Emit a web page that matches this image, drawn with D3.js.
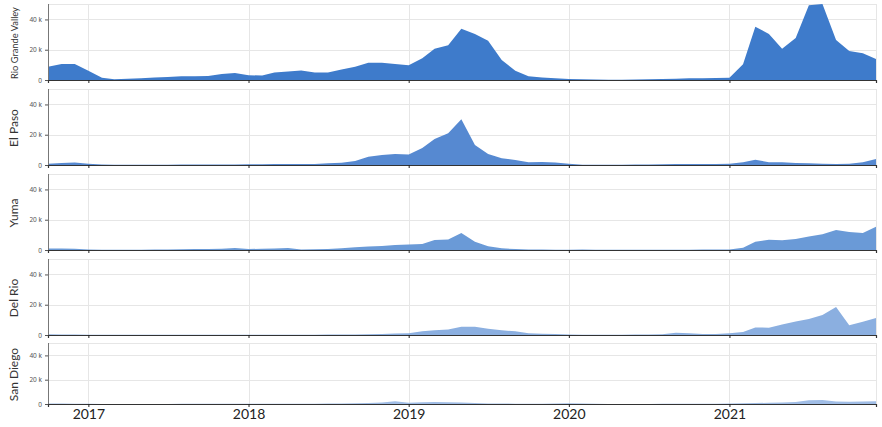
<!DOCTYPE html>
<html>
<head>
<meta charset="utf-8">
<script src="https://cdn.jsdelivr.net/npm/d3@7"></script>
<style>
  html, body { margin: 0; padding: 0; background: #fff; }
  svg { display: block; }
</style>
</head>
<body>
<svg id="chart" width="882" height="427"></svg>
<script>
// ---- DATA (monthly encounters, thousands) ----
const startMonth = "2016-10";
const endMonth = "2021-12";
const sectors = ["Rio Grande Valley", "El Paso", "Yuma", "Del Rio", "San Diego"];
const yearTicks = [2017, 2018, 2019, 2020, 2021];
const yTickValues = [0, 20000, 40000];

const rioGrandeValley = [8.8,10.5,10.6,6.1,1.5,0.5,0.8,1.2,1.6,2.0,2.5,2.4,2.7,4.0,4.7,3.1,3.0,5.0,5.6,6.3,5.0,5.0,7.0,8.8,11.4,11.4,10.5,9.7,14.3,20.7,22.9,33.9,30.4,25.9,13.2,6.1,2.4,1.6,1.1,0.6,0.5,0.4,0.1,0.2,0.3,0.5,0.7,0.9,1.1,1.1,1.3,1.5,10.4,35.2,30.4,20.7,27.7,49.3,50.2,26.4,19.1,17.6,13.9];
const elPaso = [0.9,1.4,1.6,0.9,0.3,0.1,0.1,0.1,0.2,0.2,0.3,0.4,0.3,0.4,0.4,0.5,0.5,0.6,0.7,0.6,0.7,1.2,1.5,2.7,5.5,6.6,7.3,6.9,11.2,17.2,21.0,30.2,13.2,7.3,4.4,3.3,1.8,1.9,1.7,0.9,0.2,0.2,0.1,0.2,0.3,0.4,0.5,0.6,0.6,0.7,0.7,0.8,1.8,3.5,1.8,1.8,1.3,1.1,0.8,0.7,0.8,1.8,4.0];
const yuma = [1.0,1.0,0.8,0.4,0.2,0.1,0.1,0.2,0.3,0.4,0.5,0.6,0.7,0.9,1.3,0.7,0.8,1.0,1.3,0.4,0.5,0.7,1.2,1.8,2.3,2.7,3.3,3.6,4.0,6.6,6.9,11.2,5.5,2.4,1.1,0.6,0.3,0.3,0.2,0.2,0.4,0.2,0.1,0.1,0.1,0.2,0.2,0.2,0.2,0.3,0.3,0.4,1.5,5.5,6.8,6.4,7.3,9.0,10.4,13.2,11.9,11.2,15.4];
const delRio = [0.5,0.4,0.3,0.2,0.1,0.1,0.1,0.1,0.1,0.2,0.2,0.2,0.2,0.2,0.2,0.2,0.2,0.2,0.2,0.2,0.2,0.3,0.3,0.4,0.5,0.7,1.0,1.1,2.5,3.1,3.6,5.5,5.5,4.2,3.1,2.4,1.1,0.9,0.6,0.3,0.2,0.2,0.1,0.2,0.3,0.3,0.5,1.5,1.2,0.7,0.6,1.1,2.0,5.0,4.8,7.0,9.0,10.6,13.2,18.5,6.4,8.8,11.2];
const sanDiego = [0.4,0.4,0.3,0.3,0.1,0.1,0.1,0.1,0.1,0.1,0.2,0.2,0.2,0.2,0.2,0.2,0.2,0.2,0.3,0.3,0.3,0.4,0.5,0.6,0.8,1.2,2.2,1.1,1.5,1.7,1.5,1.2,0.8,0.5,0.4,0.3,0.3,0.3,0.4,0.6,0.5,0.3,0.1,0.1,0.1,0.1,0.2,0.2,0.2,0.2,0.3,0.4,0.6,0.8,1.0,1.2,1.6,3.0,3.2,2.0,1.8,2.0,2.2];

const seriesValues = [rioGrandeValley, elPaso, yuma, delRio, sanDiego];
const colors = ["#3e7bcb", "#5689d1", "#6a9ad7", "#8bafe0", "#a0bde6"];

// ---- LAYOUT ----
const svg = d3.select("#chart");
const left = 48, right = 876;
const panelTops = [4, 89, 174, 259, 343];
const panelBottoms = [80, 165, 250, 335, 404];

const parseM = d3.timeParse("%Y-%m");
const months = d3.timeMonth.range(parseM(startMonth), d3.timeMonth.offset(parseM(endMonth), 1));

const x = d3.scaleTime().domain([months[0], months[months.length - 1]]).range([left, right]);
const yMax = d3.max(seriesValues, s => d3.max(s)) * 1000;

const fmt = v => v === 0 ? "0" : (v / 1000) + " k";

sectors.forEach((name, k) => {
  const top = panelTops[k], bottom = panelBottoms[k];
  const y = d3.scaleLinear().domain([0, yMax]).range([bottom, top]);
  const g = svg.append("g");

  // gridlines
  const grid = g.append("g").attr("stroke", "#e6e6e6").attr("stroke-width", 1);
  yTickValues.filter(v => v > 0).forEach(v => {
    grid.append("line").attr("x1", left).attr("x2", right)
      .attr("y1", Math.round(y(v)) + 0.5).attr("y2", Math.round(y(v)) + 0.5);
  });
  grid.append("line").attr("x1", left).attr("x2", right).attr("y1", top + 0.5).attr("y2", top + 0.5);
  grid.append("line").attr("x1", right + 0.5).attr("x2", right + 0.5).attr("y1", top).attr("y2", bottom);
  yearTicks.forEach(yr => {
    const xx = Math.round(x(new Date(yr, 0, 1))) + 0.5;
    grid.append("line").attr("x1", xx).attr("x2", xx).attr("y1", top).attr("y2", bottom);
  });

  // area
  const data = seriesValues[k].map((v, i) => ({ date: months[i], value: v * 1000 }));
  const area = d3.area().x(d => x(d.date)).y0(y(0)).y1(d => y(d.value));
  g.append("path").datum(data).attr("d", area).attr("fill", colors[k]);

  // x axis (baseline + ticks)
  const xAxis = d3.axisBottom(x)
    .tickValues(yearTicks.map(yr => new Date(yr, 0, 1)))
    .tickSize(3)
    .tickFormat(k === sectors.length - 1 ? d3.timeFormat("%Y") : "");
  const xg = g.append("g").attr("transform", `translate(0,${bottom})`).call(xAxis);
  xg.select(".domain").attr("stroke", "#333").attr("stroke-width", 1.2);
  xg.selectAll(".tick line").attr("stroke", "#222");
  xg.selectAll(".tick text")
    .attr("font-family", "Lato, 'Noto Sans', sans-serif")
    .attr("font-size", 14).attr("fill", "#222").attr("dy", 9);

  // y axis
  const yAxis = d3.axisLeft(y).tickValues(yTickValues).tickSize(3).tickFormat(fmt);
  const yg = g.append("g").attr("transform", `translate(${left},0)`).call(yAxis);
  yg.select(".domain").attr("stroke", "#777").attr("d", `M0.5,${top}V${bottom}`);
  yg.selectAll(".tick line").attr("stroke", "#555");
  yg.selectAll(".tick text")
    .attr("font-family", "'Noto Sans', sans-serif")
    .attr("font-size", 6.5).attr("fill", "#555").attr("x", -6);

  // panel label
  const baseSize = 12;
  const label = g.append("text")
    .attr("transform", `translate(18,${(top + bottom) / 2 + 1}) rotate(-90)`)
    .attr("text-anchor", "middle")
    .attr("font-family", "Lato, 'Noto Sans', sans-serif")
    .attr("font-size", baseSize).attr("fill", "#333")
    .text(name);
  const maxLen = bottom - top - 4;
  const len = label.node().getComputedTextLength();
  if (len > maxLen) {
    label.attr("font-size", baseSize * maxLen / len);
  }
});
</script>
</body>
</html>
